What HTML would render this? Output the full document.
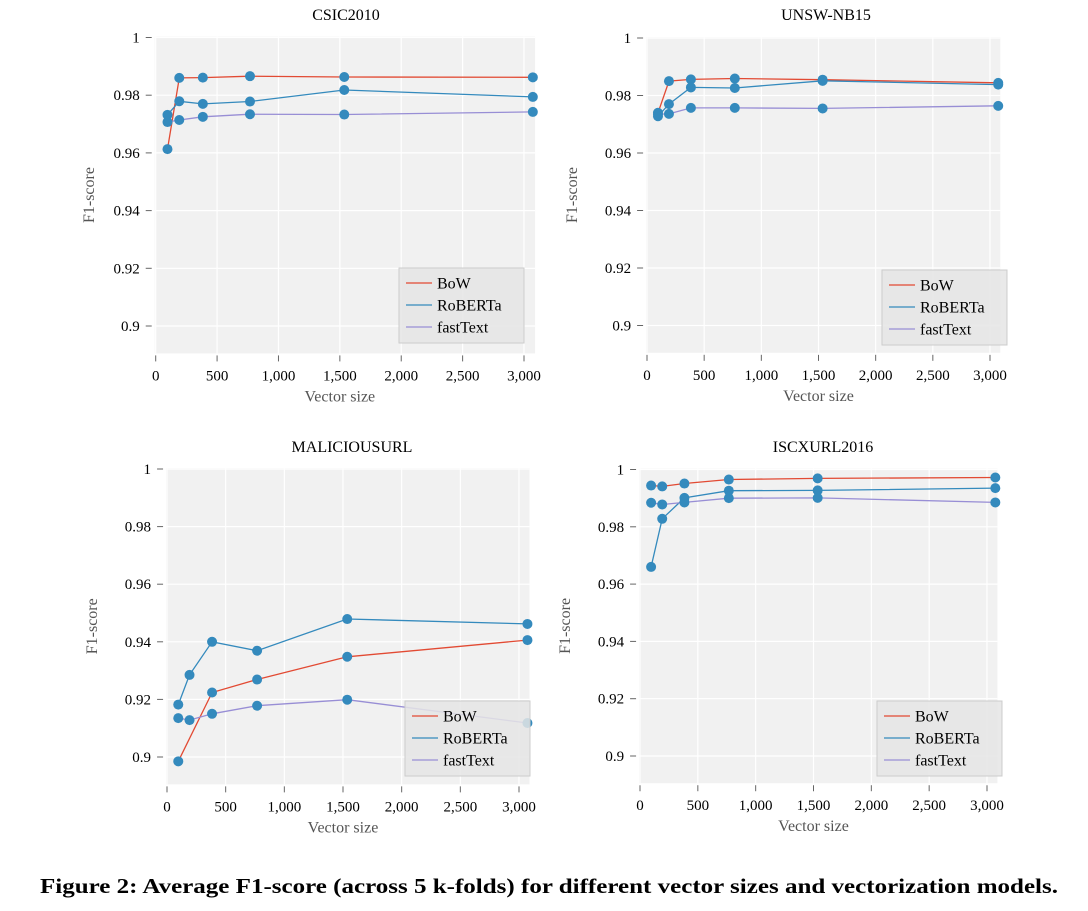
<!DOCTYPE html>
<html><head><meta charset="utf-8"><style>
html,body{margin:0;padding:0;background:#fff;}
svg{display:block;font-family:"Liberation Serif",serif;}
</style></head><body>
<svg id="fig" width="1088" height="911" viewBox="0 0 1088 911" xmlns="http://www.w3.org/2000/svg">
<text x="40" y="893" font-size="21" font-weight="bold" textLength="1018" lengthAdjust="spacingAndGlyphs">Figure 2: Average F1-score (across 5 k-folds) for different vector sizes and vectorization models.</text>
</svg>
<script>
const vectorSizes = [96, 192, 384, 768, 1536, 3072];
const seriesNames = ["BoW", "RoBERTa", "fastText"];
const xTicks = [0, 500, 1000, 1500, 2000, 2500, 3000];
const xTickLabels = ["0", "500", "1,000", "1,500", "2,000", "2,500", "3,000"];
const yTicks = [0.9, 0.92, 0.94, 0.96, 0.98, 1];
const yTickLabels = ["0.9", "0.92", "0.94", "0.96", "0.98", "1"];
const chartTitles = ["CSIC2010", "UNSW-NB15", "MALICIOUSURL", "ISCXURL2016"];

const csicBoW = [0.9613, 0.9860, 0.9861, 0.9866, 0.9863, 0.9862];
const csicRoBERTa = [0.9732, 0.9779, 0.9770, 0.9778, 0.9818, 0.9794];
const csicFastText = [0.9707, 0.9714, 0.9725, 0.9734, 0.9733, 0.9742];

const unswBoW = [0.9740, 0.9850, 0.9856, 0.9859, 0.9855, 0.9844];
const unswRoBERTa = [0.9728, 0.9770, 0.9828, 0.9826, 0.9851, 0.9838];
const unswFastText = [0.9735, 0.9736, 0.9757, 0.9757, 0.9755, 0.9764];

const malBoW = [0.8985, null, 0.9224, 0.9269, 0.9348, 0.9406];
const malRoBERTa = [0.9182, 0.9285, 0.9400, 0.9369, 0.9479, 0.9462];
const malFastText = [0.9135, 0.9128, 0.9150, 0.9178, 0.9199, 0.9118];

const iscxBoW = [0.9944, 0.9941, 0.9951, 0.9965, 0.9969, 0.9972];
const iscxRoBERTa = [0.9660, 0.9828, 0.9901, 0.9926, 0.9927, 0.9935];
const iscxFastText = [0.9884, 0.9878, 0.9885, 0.9900, 0.9901, 0.9885];

const NS = "http://www.w3.org/2000/svg";
const svg = document.getElementById("fig");
const colors = ["#e24a33", "#348abd", "#988ed5"];

function mk(tag, attrs, parent) {
  const e = document.createElementNS(NS, tag);
  for (const k in attrs) e.setAttribute(k, attrs[k]);
  (parent || svg).appendChild(e);
  return e;
}

// layout: pixel geometry for each panel
const panels = [
  {key:"csic", data:[csicBoW, csicRoBERTa, csicFastText], px0:155.7, px3000:524, py1:37.5, py09:326, titleX:346, titleY:20, ylabX:94, leg:[399,268]},
  {key:"unsw", data:[unswBoW, unswRoBERTa, unswFastText], px0:647, px3000:990, py1:38, py09:325.5, titleX:826, titleY:20, ylabX:577, leg:[882,270]},
  {key:"mal", data:[malBoW, malRoBERTa, malFastText], px0:167, px3000:519, py1:469, py09:757, titleX:352, titleY:452, ylabX:97, leg:[405,701]},
  {key:"iscx", data:[iscxBoW, iscxRoBERTa, iscxFastText], px0:640, px3000:987, py1:469.5, py09:756, titleX:823, titleY:452, ylabX:570, leg:[877,701]}
];

panels.forEach((p, pi) => {
  const g = mk("g", {});
  
  
  const xs = v => p.px0 + (p.px3000 - p.px0) * v / 3000;
  const ys = v => p.py1 + (p.py09 - p.py1) * (1 - v) / 0.1;
  const left = xs(-8), right = xs(3090), top = ys(1.0003), bottom = ys(0.8905);
  const bg = mk("rect", {x:left, y:top, width:right-left, height:bottom-top, fill:"#f1f1f1"}, g);
  
  
  // grid
  xTicks.forEach((t, i) => {
    const gl = mk("line", {x1:xs(t), x2:xs(t), y1:top, y2:bottom, stroke:"#fff", "stroke-width":1.2}, g);
    
    
    const tm = mk("line", {x1:xs(t), x2:xs(t), y1:bottom+2, y2:bottom+8, stroke:"#666", "stroke-width":1}, g);
    
    
    const tl = mk("text", {x:xs(t), y:bottom+27, "font-size":15, "text-anchor":"middle", fill:"#000"}, g);
    tl.textContent = xTickLabels[i];
    
    
  });
  yTicks.forEach((t, i) => {
    const gl = mk("line", {x1:left, x2:right, y1:ys(t), y2:ys(t), stroke:"#fff", "stroke-width":1.2}, g);
    
    
    const tm = mk("line", {x1:left-9, x2:left-3, y1:ys(t), y2:ys(t), stroke:"#666", "stroke-width":1}, g);
    
    
    const tl = mk("text", {x:left-15, y:ys(t)+5, "font-size":15, "text-anchor":"end", fill:"#000"}, g);
    tl.textContent = yTickLabels[i];
    
    
  });
  const title = mk("text", {x:p.titleX, y:p.titleY, "font-size":16, "text-anchor":"middle", fill:"#000"}, g);
  title.textContent = chartTitles[pi];
  
  
  const xl = mk("text", {x:(xs(0)+xs(3000))/2, y:bottom+48, "font-size":16, "text-anchor":"middle", fill:"#555"}, g);
  xl.textContent = "Vector size";
  
  
  const cy = (top+bottom)/2;
  const yl = mk("text", {x:p.ylabX, y:cy, "font-size":16, "text-anchor":"middle", fill:"#555", transform:`rotate(-90 ${p.ylabX} ${cy})`}, g);
  yl.textContent = "F1-score";
  
  
  // series lines
  p.data.forEach((arr, si) => {
    let d = "";
    arr.forEach((v, j) => { if (v === null) return; d += (d ? "L" : "M") + xs(vectorSizes[j]).toFixed(1) + "," + ys(v).toFixed(1); });
    const path = mk("path", {d:d, fill:"none", stroke:colors[si], "stroke-width":1.3}, g);
    
    
  });
  p.data.forEach((arr, si) => {
    arr.forEach((v, j) => {
      if (v === null) return;
      const c = mk("circle", {cx:xs(vectorSizes[j]), cy:ys(v), r:5, fill:"#348abd"}, g);
      
      
    });
  });
  // legend
  const lx = p.leg[0], ly = p.leg[1];
  const lg = mk("g", {}, g);
  
  
  mk("rect", {x:lx, y:ly, width:125, height:75, fill:"#e5e5e5", "fill-opacity":0.85, stroke:"#cccccc", "stroke-width":1}, lg);
  seriesNames.forEach((n, si) => {
    const ey = ly + 15 + si * 22;
    const ent = mk("g", {}, lg);
    
    
    mk("line", {x1:lx+7, x2:lx+33, y1:ey, y2:ey, stroke:colors[si], "stroke-width":1.3}, ent);
    const t = mk("text", {x:lx+38, y:ey+5.5, "font-size":16, fill:"#000"}, ent);
    t.textContent = n;
  });
});
</script>
</body></html>
